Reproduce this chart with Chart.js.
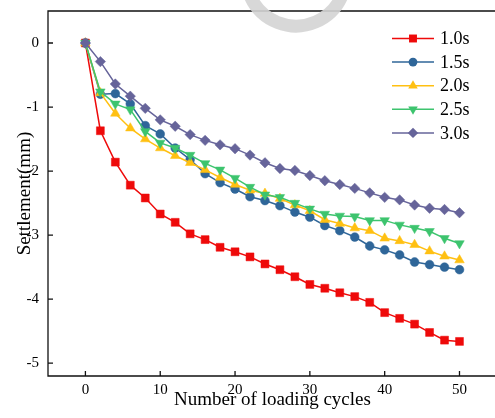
<!DOCTYPE html>
<html>
<head>
<meta charset="utf-8">
<script src="https://cdn.jsdelivr.net/npm/chart.js@4.4.0/dist/chart.umd.min.js"></script>
<style>
body{margin:0;background:#fff;overflow:hidden}
#wrap{width:503px;height:418px}
</style>
</head>
<body>
<div id="wrap"><canvas id="settleChart"></canvas></div>
<script>
// loading cycles (x) and settlement (mm) per loading period
const cycles = [0,2,4,6,8,10,12,14,16,18,20,22,24,26,28,30,32,34,36,38,40,42,44,46,48,50];
const s10 = [0,-1.37,-1.86,-2.22,-2.42,-2.67,-2.80,-2.98,-3.07,-3.19,-3.26,-3.34,-3.45,-3.54,-3.65,-3.77,-3.83,-3.90,-3.96,-4.05,-4.21,-4.30,-4.39,-4.52,-4.64,-4.66];
const s15 = [0,-0.80,-0.79,-0.95,-1.29,-1.42,-1.64,-1.82,-2.04,-2.18,-2.28,-2.40,-2.46,-2.54,-2.64,-2.72,-2.85,-2.93,-3.03,-3.17,-3.23,-3.31,-3.42,-3.46,-3.50,-3.54];
const s20 = [0,-0.78,-1.10,-1.33,-1.50,-1.64,-1.76,-1.87,-1.98,-2.10,-2.21,-2.30,-2.35,-2.43,-2.53,-2.62,-2.76,-2.82,-2.89,-2.93,-3.05,-3.09,-3.15,-3.25,-3.33,-3.39];
const s25 = [0,-0.76,-0.95,-1.04,-1.38,-1.56,-1.64,-1.75,-1.88,-1.98,-2.11,-2.25,-2.37,-2.41,-2.50,-2.59,-2.67,-2.70,-2.71,-2.77,-2.77,-2.84,-2.89,-2.94,-3.05,-3.13];
const s30 = [0,-0.29,-0.64,-0.83,-1.02,-1.20,-1.30,-1.43,-1.52,-1.59,-1.65,-1.75,-1.87,-1.96,-1.99,-2.07,-2.15,-2.21,-2.27,-2.34,-2.41,-2.45,-2.53,-2.58,-2.60,-2.65];
const seriesNames = ['1.0s','1.5s','2.0s','2.5s','3.0s'];
const xTicks = [0,10,20,30,40,50];
const yTicks = [0,-1,-2,-3,-4,-5];

const serif = "'Liberation Serif','Times New Roman',serif";
Chart.defaults.font.family = serif;
Chart.defaults.color = '#000';

function pts(arr) {
    return arr.map((v, i) => ({x: cycles[i], y: v}));
}

const styles = [
    {color: '#ee0a0a', point: 'rect', radius: 5.6, rot: 0},
    {color: '#2f6699', point: 'circle', radius: 4.4, rot: 0},
    {color: '#ffc012', point: 'triangle', radius: 5.5, rot: 0},
    {color: '#3dc46e', point: 'triangle', radius: 5.5, rot: 180},
    {color: '#66649a', point: 'rectRot', radius: 5.2, rot: 0}
];
const allData = [s10, s15, s20, s25, s30];

const datasets = allData.map((arr, i) => ({
    label: seriesNames[i],
    data: pts(arr),
    borderColor: styles[i].color,
    backgroundColor: styles[i].color,
    borderWidth: 1.5,
    pointStyle: styles[i].point,
    pointRadius: styles[i].radius,
    pointRotation: styles[i].rot,
    pointBorderWidth: 0.5,
    pointBorderColor: styles[i].color,
    order: 4 - i
}));

function noPad(s) {
    s.paddingTop = 0; s.paddingBottom = 0;
    s.paddingLeft = 0; s.paddingRight = 0;
}

// frame (left, top, bottom), inward ticks, legend and the grey mark
const framePlugin = {
    id: 'frame',
    afterDraw(chart) {
        const ctx = chart.ctx;
        const a = chart.chartArea;
        const xs = chart.scales.x, ys = chart.scales.y;
        ctx.save();
        ctx.strokeStyle = '#111';
        ctx.lineWidth = 1.3;
        ctx.beginPath();
        ctx.moveTo(a.right, a.top);
        ctx.lineTo(a.left, a.top);
        ctx.lineTo(a.left, a.bottom);
        ctx.lineTo(a.right, a.bottom);
        xTicks.forEach(t => {
            const px = xs.getPixelForValue(t);
            ctx.moveTo(px, a.bottom);
            ctx.lineTo(px, a.bottom - 5);
        });
        yTicks.forEach(t => {
            const py = ys.getPixelForValue(t);
            ctx.moveTo(a.left, py);
            ctx.lineTo(a.left + 5, py);
        });
        ctx.stroke();

        // legend
        const lx0 = 392, lx1 = 434, ly0 = 38.5, step = 23.6;
        ctx.font = '18px ' + serif;
        ctx.textBaseline = 'middle';
        styles.forEach((s, i) => {
            const y = ly0 + i * step;
            ctx.strokeStyle = s.color;
            ctx.lineWidth = 1.5;
            ctx.beginPath();
            ctx.moveTo(lx0, y);
            ctx.lineTo(lx1, y);
            ctx.stroke();
            ctx.fillStyle = s.color;
            Chart.helpers.drawPoint(ctx, {pointStyle: s.point, radius: s.radius, rotation: s.rot, borderWidth: 0}, (lx0 + lx1) / 2, y);
            ctx.fillStyle = '#000';
            ctx.fillText(seriesNames[i], 440, y + 1);
        });

        // light grey watermark arc at the top
        ctx.strokeStyle = 'rgba(212,212,212,0.9)';
        ctx.lineWidth = 13;
        ctx.beginPath();
        ctx.arc(296, -24, 50, 0.12 * Math.PI, 0.88 * Math.PI);
        ctx.stroke();
        ctx.restore();
    }
};

new Chart(document.getElementById('settleChart'), {
    type: 'line',
    data: {datasets: datasets},
    options: {
        responsive: true,
        maintainAspectRatio: false,
        animation: false,
        layout: {padding: {top: 11, right: 0, bottom: 0, left: 0}},
        plugins: {legend: {display: false}, tooltip: {enabled: false}},
        scales: {
            x: {
                type: 'linear',
                min: -5,
                max: 55,
                grid: {display: false, drawTicks: false},
                border: {display: false},
                afterBuildTicks: s => { s.ticks = xTicks.map(v => ({value: v})); },
                afterFit: s => { s.height = 42; noPad(s); },
                ticks: {font: {size: 15}, padding: 5, maxRotation: 0},
                title: {display: true, text: 'Number of loading cycles', font: {size: 19}, padding: {top: 0, bottom: 7}}
            },
            y: {
                type: 'linear',
                min: -5.2,
                max: 0.5,
                grid: {display: false, drawTicks: false},
                border: {display: false},
                afterBuildTicks: s => { s.ticks = yTicks.map(v => ({value: v})); },
                afterFit: s => { s.width = 48; noPad(s); },
                ticks: {font: {size: 15}, padding: 9},
                title: {display: true, text: 'Settlement(mm)', font: {size: 19}, padding: {top: 14, bottom: 0}}
            }
        }
    },
    plugins: [framePlugin]
});
</script>
</body>
</html>
